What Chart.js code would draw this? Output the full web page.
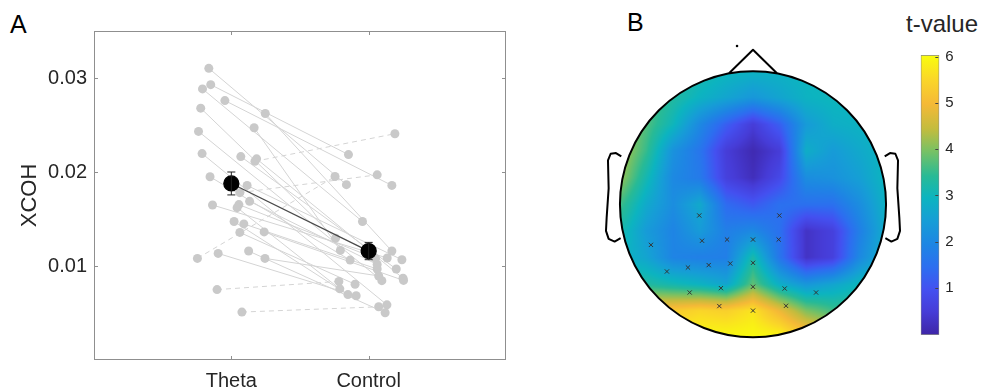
<!DOCTYPE html>
<html>
<head>
<meta charset="utf-8">
<script src="https://cdn.jsdelivr.net/npm/chart.js@4.4.0/dist/chart.umd.min.js"></script>
<style>
body{margin:0;background:#fff;}
#wrap{position:relative;width:983px;height:391px;overflow:hidden;font-family:"Liberation Sans",Arial,sans-serif;}
canvas{position:absolute;}
.lbl{position:absolute;line-height:1;color:#000;white-space:nowrap;}
</style>
</head>
<body>
<div id="wrap">
<div class="lbl" style="left:10px;top:12px;font-size:25px">A</div>
<div class="lbl" style="left:627px;top:10px;font-size:25px">B</div>
<div class="lbl" style="left:906px;top:12px;font-size:24px;color:#262626">t-value</div>
<canvas id="cA" width="560" height="391" style="left:0;top:0"></canvas>
<canvas id="cB" width="306" height="306" style="left:600px;top:38px"></canvas>
<canvas id="cC" width="83" height="310" style="left:900px;top:40px"></canvas>
</div>
<script>
// ---- panel A data (one entry per subject, theta paired with control) ----
var categories = ["Theta", "Control"];
var yTicks = [0.01, 0.02, 0.03];
var thetaX = [0.836,0.850,0.790,0.953,0.777,1.247,1.166,0.761,0.787,1.069,1.184,1.172,0.845,1.115,1.062,
              1.133,1.055,0.863,1.042,1.020,1.091,1.239,1.062,1.126,0.904,0.753,1.245,0.896,1.077];
var thetaY = [0.03103,0.02929,0.02884,0.02760,0.02679,0.02622,0.02471,0.02432,0.02196,0.02164,0.02140,0.02114,0.01949,0.01857,0.01780,
              0.01688,0.01653,0.01649,0.01621,0.01473,0.01448,0.01363,0.01357,0.01159,0.01134,0.01081,0.01081,0.00749,0.00510];
var controlX = [1.838,1.853,1.955,2.169,1.759,2.169,1.794,2.096,2.133,2.201,2.250,2.191,1.865,2.242,2.062,
                2.062,2.050,2.135,1.790,1.849,2.062,2.254,1.901,2.120,1.909,1.755,2.073,1.783,2.073];
var controlY = [0.01865,0.02185,0.01473,0.01857,0.01296,0.01159,0.01166,0.00844,0.00587,0.00968,0.00870,0.02407,0.01063,0.01067,0.01970,
                0.01016,0.01081,0.01085,0.00757,0.00696,0.00968,0.00847,0.00806,0.00503,0.00683,0.01952,0.00894,0.00836,0.00566];
var meanY = [0.01878, 0.01159];
var semY = [0.00122, 0.00092];

// ---- panel B data ----
var gridX = [-1,-0.8,-0.6,-0.4,-0.2,0,0.2,0.4,0.6,0.8,1];
var gridY = [1,0.8,0.6,0.4,0.2,0,-0.2,-0.4,-0.6,-0.8,-1];
var tGrid = [
  [3.8,3.6,3.4,3.2,3.0,2.9,2.9,3.0,3.0,3.0,3.0],
  [4.1,3.8,3.3,2.9,2.6,2.3,2.6,2.9,3.0,3.0,3.0],
  [4.3,3.7,3.0,2.0,1.2,0.5,1.2,2.4,2.8,2.9,3.0],
  [4.4,3.5,2.2,1.6,0.5,0.1,0.5,2.8,2.4,2.7,3.0],
  [4.2,3.1,2.0,1.7,0.6,0.2,0.8,2.1,2.2,2.5,3.0],
  [3.6,2.7,2.1,2.7,1.4,1.1,1.5,1.5,1.5,2.1,2.9],
  [3.2,2.4,1.9,2.4,1.8,2.0,1.5,0.3,0.6,1.8,2.8],
  [3.0,2.6,1.9,1.8,1.8,3.2,1.6,0.3,0.6,2.0,2.9],
  [3.4,3.3,3.1,2.9,2.6,3.8,2.8,2.3,2.6,3.0,3.2],
  [5.0,5.2,5.3,5.5,5.4,5.7,4.9,4.0,3.6,3.5,3.5],
  [5.8,5.9,6.0,6.0,6.0,6.0,6.0,5.4,4.8,4.5,4.4]
];
var elecX = [-0.404,0.198,-0.767,-0.383,-0.195,0,0.193,-0.647,-0.489,-0.333,-0.171,0,-0.476,-0.241,0,0.238,0.474,-0.253,0,0.248];
var elecY = [-0.084,-0.084,-0.305,-0.274,-0.265,-0.265,-0.265,-0.505,-0.475,-0.457,-0.445,-0.440,-0.663,-0.630,-0.620,-0.633,-0.663,-0.765,-0.799,-0.763];
var clim = [0, 6];
var cbTicks = [1, 2, 3, 4, 5, 6];

// parula-like colormap
var parula = [[0,62,38,168],[0.08,70,60,215],[0.16,68,80,240],[0.24,45,110,240],[0.32,30,133,228],
  [0.41,22,158,214],[0.49,12,180,192],[0.57,40,186,150],[0.66,120,193,100],[0.74,195,188,62],
  [0.83,245,185,55],[0.92,250,215,40],[1,249,251,14]];
function cmap(t) {
  t = Math.max(0, Math.min(1, t));
  for (var k = 1; k < parula.length; k++) {
    if (t <= parula[k][0]) {
      var a = parula[k-1], b = parula[k], f = (t - a[0]) / (b[0] - a[0]);
      return [a[1]+f*(b[1]-a[1]), a[2]+f*(b[2]-a[2]), a[3]+f*(b[3]-a[3])];
    }
  }
  return parula[parula.length-1].slice(1);
}

Chart.defaults.font.family = '"Liberation Sans", Arial, sans-serif';
Chart.defaults.color = '#262626';
Chart.defaults.animation = false;

// ---------------- panel A ----------------
var pairSets = thetaX.map(function(tx, i) {
  return {
    type: 'line',
    data: [{x: tx, y: thetaY[i]}, {x: controlX[i], y: controlY[i]}],
    borderColor: '#d4d4d4',
    borderWidth: 1,
    borderDash: controlY[i] > thetaY[i] ? [5, 4] : [],
    pointRadius: 0,
    order: 2
  };
});
var allPts = thetaX.map(function(v, i){ return {x: v, y: thetaY[i]}; })
  .concat(controlX.map(function(v, i){ return {x: v, y: controlY[i]}; }));

var boxPlugin = {
  id: 'box',
  afterDraw: function(chart) {
    var ctx = chart.ctx, a = chart.chartArea, x = chart.scales.x, y = chart.scales.y;
    ctx.save();
    ctx.strokeStyle = '#8f8f8f';
    ctx.lineWidth = 1;
    ctx.strokeRect(a.left + 0.5, a.top + 0.5, a.width - 1, a.height - 1);
    ctx.beginPath();
    [1, 2].forEach(function(v) {
      var px = Math.round(x.getPixelForValue(v)) + 0.5;
      ctx.moveTo(px, a.bottom); ctx.lineTo(px, a.bottom - 4);
      ctx.moveTo(px, a.top); ctx.lineTo(px, a.top + 4);
    });
    yTicks.forEach(function(v) {
      var py = Math.round(y.getPixelForValue(v)) + 0.5;
      ctx.moveTo(a.left, py); ctx.lineTo(a.left + 4, py);
      ctx.moveTo(a.right, py); ctx.lineTo(a.right - 4, py);
    });
    ctx.stroke();
    ctx.restore();
  }
};
var errPlugin = {
  id: 'err',
  afterDatasetsDraw: function(chart) {
    var ctx = chart.ctx, x = chart.scales.x, y = chart.scales.y;
    ctx.save();
    ctx.strokeStyle = '#222';
    ctx.lineWidth = 1;
    meanY.forEach(function(m, i) {
      var px = x.getPixelForValue(i + 1);
      var top = y.getPixelForValue(m + semY[i]), bot = y.getPixelForValue(m - semY[i]);
      ctx.beginPath();
      ctx.moveTo(px, top); ctx.lineTo(px, bot);
      ctx.moveTo(px - 4, top); ctx.lineTo(px + 4, top);
      ctx.moveTo(px - 4, bot); ctx.lineTo(px + 4, bot);
      ctx.stroke();
    });
    ctx.restore();
  }
};

new Chart(document.getElementById('cA'), {
  type: 'scatter',
  data: {
    datasets: [{
      type: 'line',
      data: meanY.map(function(m, i){ return {x: i + 1, y: m}; }),
      borderColor: '#4a4a4a',
      borderWidth: 1.3,
      pointRadius: 7.5,
      pointBackgroundColor: '#000',
      pointBorderColor: '#000',
      order: 0
    }, {
      type: 'scatter',
      data: allPts,
      pointRadius: 4.5,
      pointBackgroundColor: '#c9c9c9',
      pointBorderWidth: 0,
      order: 1
    }].concat(pairSets)
  },
  options: {
    responsive: false,
    layout: {padding: {left: 0, right: 54, top: 31, bottom: 0}, autoPadding: false},
    plugins: {legend: {display: false}, tooltip: {enabled: false}},
    scales: {
      x: {
        type: 'linear', min: 0, max: 3,
        afterBuildTicks: function(s){ s.ticks = [1, 2].map(function(v){ return {value: v}; }); },
        afterFit: function(s){ s.height = 31; },
        ticks: {callback: function(v){ return categories[v - 1]; }, font: {size: 20}, padding: 9, maxRotation: 0, autoSkip: false},
        grid: {display: false, drawTicks: false},
        border: {display: false}
      },
      y: {
        min: 0, max: 0.035,
        afterBuildTicks: function(s){ s.ticks = yTicks.map(function(v){ return {value: v}; }); },
        afterFit: function(s){ s.width = 94; },
        ticks: {callback: function(v){ return v.toFixed(2); }, font: {size: 20}, padding: 7},
        grid: {display: false, drawTicks: false},
        border: {display: false},
        title: {display: true, text: 'XCOH', font: {size: 22}, padding: {top: 17, bottom: 0}}
      }
    }
  },
  plugins: [boxPlugin, errPlugin]
});

// ---------------- panel B ----------------
function sampleGrid(ux, uy) {
  var fi = (ux - gridX[0]) / (gridX[1] - gridX[0]);
  var fj = (gridY[0] - uy) / (gridY[0] - gridY[1]);
  var n = gridX.length - 1;
  fi = Math.max(0, Math.min(n, fi)); fj = Math.max(0, Math.min(n, fj));
  var i0 = Math.min(n - 1, Math.floor(fi)), j0 = Math.min(n - 1, Math.floor(fj));
  var di = fi - i0, dj = fj - j0;
  var a = tGrid[j0][i0], b = tGrid[j0][i0+1], c = tGrid[j0+1][i0], d = tGrid[j0+1][i0+1];
  return (a*(1-di) + b*di)*(1-dj) + (c*(1-di) + d*di)*dj;
}

var topoPlugin = {
  id: 'topo',
  beforeDatasetsDraw: function(chart) {
    var ctx = chart.ctx, x = chart.scales.x, y = chart.scales.y;
    var cx = x.getPixelForValue(0), cy = y.getPixelForValue(0);
    var r = x.getPixelForValue(1) - cx;
    var N = Math.round(2 * r);
    var off = document.createElement('canvas');
    off.width = N; off.height = N;
    var octx = off.getContext('2d');
    var img = octx.createImageData(N, N);
    for (var py = 0; py < N; py++) {
      for (var px = 0; px < N; px++) {
        var ux = (px + 0.5) / N * 2 - 1, uy = 1 - (py + 0.5) / N * 2;
        var c = cmap((sampleGrid(ux, uy) - clim[0]) / (clim[1] - clim[0]));
        var k = (py * N + px) * 4;
        img.data[k] = c[0]; img.data[k+1] = c[1]; img.data[k+2] = c[2]; img.data[k+3] = 255;
      }
    }
    octx.putImageData(img, 0, 0);
    ctx.save();
    ctx.beginPath();
    ctx.arc(cx, cy, r, 0, Math.PI * 2);
    ctx.clip();
    ctx.drawImage(off, cx - r, cy - r, 2 * r, 2 * r);
    ctx.restore();
  },
  afterDatasetsDraw: function(chart) {
    var ctx = chart.ctx, x = chart.scales.x, y = chart.scales.y;
    var cx = x.getPixelForValue(0), cy = y.getPixelForValue(0);
    var r = x.getPixelForValue(1) - cx;
    function P(ux, uy){ return [x.getPixelForValue(ux), y.getPixelForValue(uy)]; }
    function path(pts){
      ctx.beginPath();
      pts.forEach(function(p, i){ var q = P(p[0], p[1]); if (i) ctx.lineTo(q[0], q[1]); else ctx.moveTo(q[0], q[1]); });
      ctx.stroke();
    }
    ctx.save();
    ctx.strokeStyle = '#000';
    ctx.lineWidth = 2;
    ctx.lineJoin = 'round';
    ctx.beginPath();
    ctx.arc(cx, cy, r, 0, Math.PI * 2);
    ctx.stroke();
    path([[-0.18, 0.985], [0, 1.162], [0.18, 0.985]]);
    var ear = [[-0.99,0.36],[-1.03,0.385],[-1.07,0.38],[-1.09,0.33],[-1.085,0.12],[-1.1,-0.1],[-1.105,-0.2],[-1.085,-0.26],[-1.04,-0.28],[-0.995,-0.255]];
    path(ear);
    path(ear.map(function(p){ return [-p[0], p[1]]; }));
    var d = P(-0.12, 1.19);
    ctx.fillStyle = '#000';
    ctx.beginPath(); ctx.arc(d[0], d[1], 1.3, 0, Math.PI * 2); ctx.fill();
    ctx.restore();
  }
};

new Chart(document.getElementById('cB'), {
  type: 'scatter',
  data: {
    datasets: [{
      data: elecX.map(function(v, i){ return {x: v, y: elecY[i]}; }),
      pointStyle: 'crossRot',
      pointRadius: 3,
      borderColor: '#333',
      borderWidth: 1
    }]
  },
  options: {
    responsive: false,
    layout: {padding: 0, autoPadding: false},
    plugins: {legend: {display: false}, tooltip: {enabled: false}},
    scales: {
      x: {type: 'linear', min: -1.15, max: 1.15, display: false},
      y: {type: 'linear', min: -1.05, max: 1.25, display: false}
    }
  },
  plugins: [topoPlugin]
});

// ---------------- colour bar ----------------
var cbTickPlugin = {
  id: 'cbticks',
  afterDraw: function(chart) {
    var ctx = chart.ctx, a = chart.chartArea, y = chart.scales.y;
    ctx.save();
    ctx.strokeStyle = '#444';
    ctx.lineWidth = 1;
    ctx.beginPath();
    cbTicks.forEach(function(v) {
      var py = Math.round(y.getPixelForValue(v)) + 0.5;
      ctx.moveTo(a.right - 1, py); ctx.lineTo(a.right - 4, py);
    });
    ctx.stroke();
    ctx.restore();
  }
};

new Chart(document.getElementById('cC'), {
  type: 'bar',
  data: {
    labels: ['t'],
    datasets: [{
      data: [[-0.02, 6.04]],
      backgroundColor: function(c) {
        var ch = c.chart, y = ch.scales.y;
        if (!y || !ch.chartArea) return '#888';
        var g = ch.ctx.createLinearGradient(0, y.getPixelForValue(clim[0]), 0, y.getPixelForValue(clim[1]));
        parula.forEach(function(s){ g.addColorStop(s[0], 'rgb(' + s[1] + ',' + s[2] + ',' + s[3] + ')'); });
        return g;
      },
      borderColor: '#8a8a8a',
      borderWidth: 1,
      borderSkipped: false,
      barPercentage: 1,
      categoryPercentage: 1
    }]
  },
  options: {
    responsive: false,
    layout: {padding: {left: 20.7, right: 0, top: 10, bottom: 10}, autoPadding: false},
    plugins: {legend: {display: false}, tooltip: {enabled: false}},
    scales: {
      x: {display: false},
      y: {
        position: 'right', min: -0.02, max: 6.04,
        afterBuildTicks: function(s){ s.ticks = cbTicks.map(function(v){ return {value: v}; }); },
        afterFit: function(s){ s.width = 43.7; },
        ticks: {font: {size: 15}, padding: 6},
        grid: {display: false, drawTicks: false},
        border: {display: false}
      }
    }
  },
  plugins: [cbTickPlugin]
});
</script>
</body>
</html>
